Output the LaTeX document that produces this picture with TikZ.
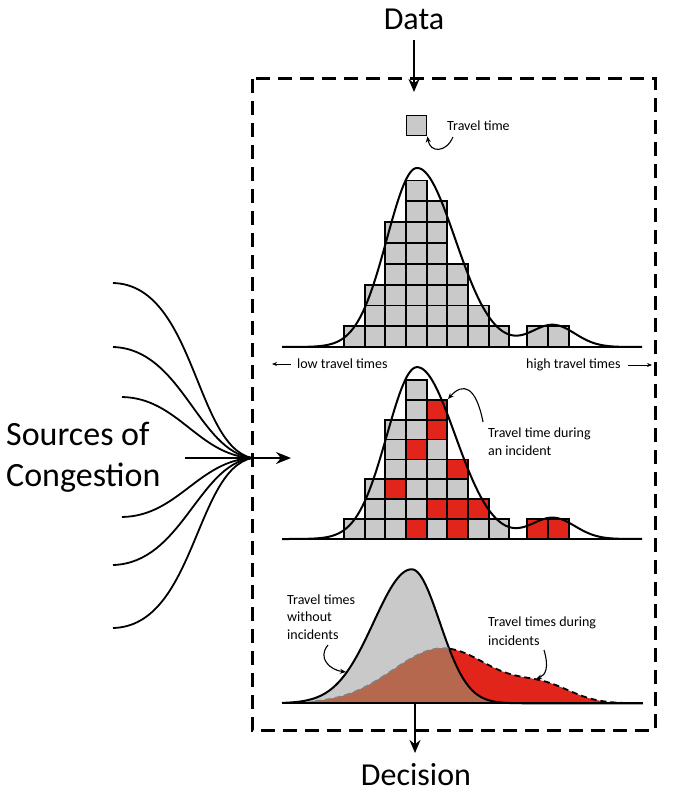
\documentclass[tikz,border=0pt]{standalone}
\usepackage{fontspec}
\setmainfont{Carlito}
\usetikzlibrary{arrows.meta}
\definecolor{cellgrey}{HTML}{C9C9C9}
\definecolor{cellred}{HTML}{E2251B}
\definecolor{brownfill}{HTML}{B5684E}
\tikzset{
  x=1pt,y=-1pt,
  cell/.style={draw=black,line width=1.8pt},
  curveline/.style={line width=2pt,line join=round},
  baseln/.style={line width=2.4pt},
  framebox/.style={line width=3pt,dash pattern=on 14pt off 8pt},
  bigarrow/.style={line width=1.8pt,-{Stealth[length=13pt,width=11pt]}},
  annarrow/.style={line width=1.1pt,-{Stealth[length=6pt,width=5pt]}},
  srcline/.style={line width=1.8pt},
  smalltext/.style={font=\fontsize{14}{18}\selectfont,inner sep=0pt,align=left},
  bigtext/.style={font=\fontsize{32}{38}\selectfont,inner sep=0pt},
  declare function={
    ftop(\t)=179*exp(-((\t-41.7)*(\t-41.7))/(2*((\t<41.7)?9:14.44)))+22*exp(-((\t-55.3)*(\t-55.3))/9.68);
    fb(\t)=134*exp(-((\t-41.17)*(\t-41.17))/(2*((\t<41.17)?14.44:7.84)));
    gb(\t)=55*exp(-((\t-44.3)*(\t-44.3))/50)+15*exp(-((\t-54.5)*(\t-54.5))/15.68);
  }
}
\begin{document}
\begin{tikzpicture}
\useasboundingbox (0,0) rectangle (681,794);
% frame
\draw[framebox] (252,79) rectangle (655,730);
% Data / Decision
\node[bigtext] (data) at (414,19) {Data};
\coordinate (datatip) at (414,92);
\draw[bigarrow] (414,40) -- (datatip);
\node[bigtext] (decision) at (416,775) {Decision};
\coordinate (decstart) at (415,703);
\coordinate (dectip) at (415,753);
\draw[bigarrow] (decstart) -- (dectip);

% ---------- top histogram ----------
\foreach \xl/\n in {344/1,364.7/3,385.3/6,406/8,426.7/7,447.3/4,468/2,488.7/1,527.3/1,548/1}{
  \foreach \r in {1,...,\n}{
    \filldraw[cell,fill=cellgrey] (\xl,{347-(\r-1)*20.8}) rectangle ({\xl+20.6},{347-\r*20.8});
  }
}
\draw[curveline] plot[domain=28.2:64.2,samples=220] ({10*\x},{347-ftop(\x)});
\draw[baseln] (282,347) -- (642,347);
% travel time legend
\node[cell,fill=cellgrey,minimum size=20pt,inner sep=0pt] (ttbox) at (416.5,125.5) {};
\node[smalltext,anchor=west] (ttlabel) at (447,126) {Travel time};
\coordinate (ttstart) at (453,137);
\draw[annarrow] (ttstart) .. controls (446,153) and (430,153) .. (ttbox.south east);
% axis labels
\node[smalltext,anchor=west] (low) at (297,364) {low travel times};
\node[smalltext,anchor=west] (high) at (526,365) {high travel times};
\coordinate (lowtip) at (272,364);
\coordinate (hightip) at (652,365);
\draw[line width=1pt,-{Stealth[length=5pt,width=4pt]}] (291,364) -- (lowtip);
\draw[line width=1pt,-{Stealth[length=5pt,width=4pt]}] (628,365) -- (hightip);

% ---------- middle histogram ----------
\foreach \xl/\n in {344/1,364.7/3,385.3/6,406/8,426.7/7,447.3/4,468/2,488.7/1,527.3/1,548/1}{
  \foreach \r in {1,...,\n}{
    \filldraw[cell,fill=cellgrey] (\xl,{539-(\r-1)*19.9}) rectangle ({\xl+20.6},{539-\r*19.9});
  }
}
\foreach \xl/\r in {426.7/6,426.7/5,406/4,447.3/3,385.3/2,426.7/1,447.3/1,468/1,406/0,447.3/0,527.3/0,548/0}{
  \filldraw[cell,fill=cellred] (\xl,{539-\r*19.9}) rectangle ({\xl+20.6},{539-(\r+1)*19.9});
}
\draw[curveline] plot[domain=28.2:64.2,samples=220] ({10*\x},{539-0.96*ftop(\x)});
\draw[baseln] (282,539) -- (642,539);
\node[smalltext,anchor=west,font=\fontsize{14}{18}\selectfont] (incl) at (488,442) {Travel time during\\an incident};
\coordinate (incstart) at (483,422);
\coordinate (inctip) at (448,399);
\draw[annarrow] (incstart) .. controls (476,386) and (463,382) .. (inctip);

% ---------- bottom distributions ----------
\fill[cellgrey] plot[domain=28.2:64.3,samples=200] ({10*\x},{703.3-fb(\x)}) -- cycle;
\fill[cellred] plot[domain=30.5:64.3,samples=200] ({10*\x},{703.3-gb(\x)}) -- cycle;
\fill[brownfill] plot[domain=30.5:64.3,samples=200] ({10*\x},{703.3-min(fb(\x),gb(\x))}) -- cycle;
\draw[curveline] plot[domain=28.2:64.3,samples=200] ({10*\x},{703.3-fb(\x)});
\draw[line width=1.8pt,gray,dash pattern=on 6pt off 4pt] plot[domain=31.5:45.0,samples=120] ({10*\x},{703.3-gb(\x)});
\draw[line width=1.8pt,dash pattern=on 6pt off 4pt] plot[domain=45.0:62.5,samples=150] ({10*\x},{703.3-gb(\x)});
\draw[line width=2pt] (281.7,703.3) -- (643.3,703.3);
\node[smalltext,anchor=west,font=\fontsize{14}{17.8}\selectfont] (without) at (287,617) {Travel times\\without\\incidents};
\node[smalltext,anchor=west,font=\fontsize{14}{19}\selectfont] (during) at (488,631) {Travel times during\\incidents};
\coordinate (wstart) at (328,645);
\coordinate (wtip) at (346,672);
\draw[annarrow] (wstart) .. controls (317,658) and (330,670) .. (wtip);
\coordinate (dstart) at (544,650);
\coordinate (dtip) at (536,679);
\draw[annarrow] (dstart) .. controls (549,667) and (546,675) .. (dtip);

% ---------- sources of congestion ----------
\node[anchor=west,inner sep=0pt,align=left,font=\fontsize{34}{41}\selectfont] (sources) at (6,457) {Sources of\\Congestion};
\coordinate (hub) at (252,458);
\coordinate (s1) at (113,283);
\coordinate (s2) at (113,347);
\coordinate (s3) at (122,397);
\coordinate (s4) at (185,458);
\coordinate (s5) at (122,517);
\coordinate (s6) at (113,565);
\coordinate (s7) at (113,628);
\coordinate (srctip) at (291,458);
\draw[srcline] (s1) .. controls (195,285) and (195,446) .. (hub);
\draw[srcline] (s2) .. controls (182,349) and (198,451) .. (hub);
\draw[srcline] (s3) .. controls (178,398) and (198,455) .. (hub);
\draw[srcline] (s5) .. controls (178,516) and (198,461) .. (hub);
\draw[srcline] (s6) .. controls (182,563) and (198,465) .. (hub);
\draw[srcline] (s7) .. controls (195,626) and (195,470) .. (hub);
\draw[line width=2.2pt,-{Stealth[length=15pt,width=12pt]}] (s4) -- (srctip);
\end{tikzpicture}
\end{document}
